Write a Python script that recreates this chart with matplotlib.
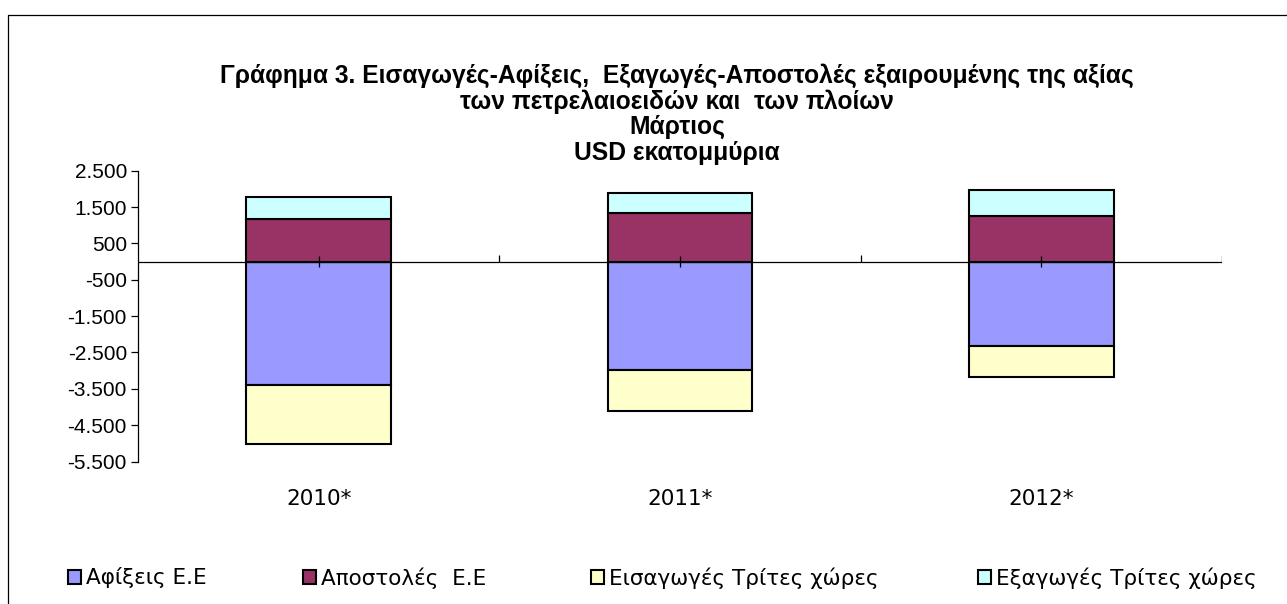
import numpy as np
import matplotlib.pyplot as plt
from matplotlib.patches import Patch
from matplotlib.lines import Line2D
from matplotlib.ticker import FuncFormatter

# data (USD million, March)
years = ['2010*', '2011*', '2012*']
arrivals_eu = [-3405, -2990, -2310]     # Αφίξεις Ε.Ε
dispatches_eu = [1175, 1350, 1265]      # Αποστολές Ε.Ε
imports_third = [-1625, -1120, -865]    # Εισαγωγές Τρίτες χώρες
exports_third = [605, 550, 695]         # Εξαγωγές Τρίτες χώρες
yticks = list(range(-5500, 2501, 1000))

series_labels = ['Αφίξεις Ε.Ε', 'Αποστολές  Ε.Ε', 'Εισαγωγές Τρίτες χώρες', 'Εξαγωγές Τρίτες χώρες']
series_colors = ['#9999FF', '#993366', '#FFFFCC', '#CCFFFF']

title = ('Γράφημα 3. Εισαγωγές-Αφίξεις,  Εξαγωγές-Αποστολές εξαιρουμένης της αξίας\n'
         'των πετρελαιοειδών και  των πλοίων\nΜάρτιος\nUSD εκατομμύρια')

plt.rcParams['font.family'] = ['Liberation Sans', 'DejaVu Sans']

W, H = 1287, 604
fig = plt.figure(figsize=(W / 100, H / 100), dpi=100)
ax = fig.add_axes([138 / W, 1 - 461.5 / H, (1222 - 138) / W, (461.5 - 170.7) / H])

x = np.arange(len(years))
bw = 0.4
bar_kw = dict(edgecolor='black', linewidth=1.5, zorder=2)
ax.bar(x, arrivals_eu, bw, color=series_colors[0], **bar_kw)
ax.bar(x, imports_third, bw, bottom=arrivals_eu, color=series_colors[2], **bar_kw)
ax.bar(x, dispatches_eu, bw, color=series_colors[1], **bar_kw)
ax.bar(x, exports_third, bw, bottom=dispatches_eu, color=series_colors[3], **bar_kw)

ax.set_xlim(-0.5, len(years) - 0.5)
ax.set_ylim(min(yticks), max(yticks))

# category axis drawn at zero
ax.axhline(0, color='black', lw=0.9, zorder=3)
ax.vlines(x + 0.5, 0, 170, color='black', lw=0.9, zorder=3)
ax.vlines(x, -160, 160, color='black', lw=0.9, zorder=4)

for s in ['top', 'right', 'bottom']:
    ax.spines[s].set_visible(False)
ax.spines['left'].set_linewidth(0.9)

ax.set_yticks(yticks)
ax.yaxis.set_major_formatter(FuncFormatter(lambda v, p: f'{v:,.0f}'.replace(',', '.')))
ax.tick_params(axis='y', direction='out', length=5, width=0.9, labelsize=15, pad=3)
ax.set_xticks(x, years)
ax.tick_params(axis='x', length=0, pad=20)
for t in ax.get_xticklabels():
    t.set_fontfamily('DejaVu Sans')
    t.set_fontsize(15.5)

fig.text(677 / W, 1 - 114 / H, title, ha='center', va='center',
         fontsize=17.7, fontweight='bold', linespacing=1.08)

# legend entries spread like the original
legend_x = [68, 303, 591, 978]
for lab, col, lx in zip(series_labels, series_colors, legend_x):
    fig.legend(handles=[Patch(facecolor=col, edgecolor='black', linewidth=1.5)], labels=[lab],
               loc='center left', bbox_to_anchor=(lx / W, 1 - 578 / H), frameon=False,
               prop={'family': 'DejaVu Sans', 'size': 15.5},
               handlelength=0.6, handleheight=0.6, handletextpad=0.25,
               borderpad=0, borderaxespad=0)

# outer chart frame (only top and left visible)
fig.add_artist(Line2D([8 / W, 8 / W, 1.01], [-0.01, 1 - 15 / H, 1 - 15 / H],
                      transform=fig.transFigure, color='black', lw=0.9))

fig.savefig('out.png', dpi=100)
